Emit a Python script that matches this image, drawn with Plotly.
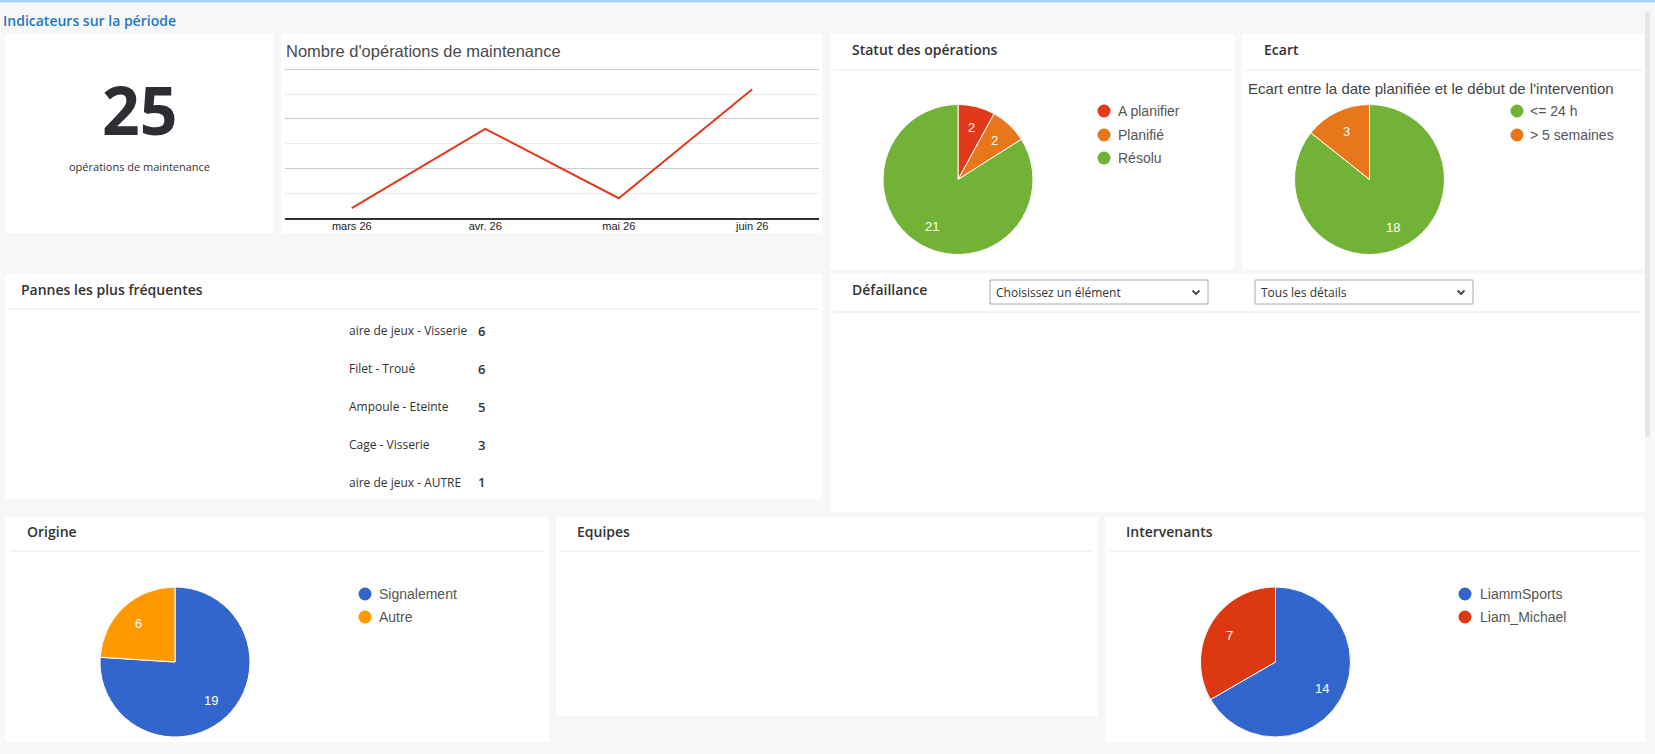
import numpy as np
import plotly.graph_objects as go

W, H = 1655, 754

# ---------------- data ----------------
months = ["mars 26", "avr. 26", "mai 26", "juin 26"]
ops_per_month = [1, 9, 2, 13]
total_ops = 25
y_axis_max = 15

statut_labels = ["A planifier", "Planifié", "Résolu"]
statut_values = [2, 2, 21]
statut_colors = ["#e3391b", "#e8761a", "#72b236"]

ecart_labels = ["<= 24 h", "> 5 semaines"]
ecart_values = [18, 3]
ecart_colors = ["#72b236", "#e8761a"]

pannes_labels = ["aire de jeux - Visserie", "Filet - Troué", "Ampoule - Eteinte",
                 "Cage - Visserie", "aire de jeux - AUTRE"]
pannes_values = [6, 6, 5, 3, 1]

origine_labels = ["Signalement", "Autre"]
origine_values = [19, 6]
origine_colors = ["#3366cc", "#ff9900"]

interv_labels = ["LiammSports", "Liam_Michael"]
interv_values = [14, 7]
interv_colors = ["#3366cc", "#dc3912"]

dropdown_texts = ["Choisissez un élément", "Tous les détails"]


def px(x):
    return x / W


def py(y):
    return 1 - y / H


fig = go.Figure()
shapes = []
ann = []

# ---------------- background / panels ----------------
shapes.append(dict(type="rect", xref="paper", yref="paper", x0=0, x1=1, y0=py(2.5), y1=1,
                   fillcolor="#a9d3f5", line_width=0, layer="below"))
panels = [
    (5, 34, 274, 233), (281, 34, 822, 233), (830, 34, 1235, 269), (1242, 34, 1645, 269),
    (5, 274, 822, 499), (830, 274, 1645, 512),
    (5, 517, 549, 742), (556, 517, 1098, 716), (1105, 517, 1645, 742),
]
for (x0, y0, x1, y1) in panels:
    shapes.append(dict(type="rect", xref="paper", yref="paper", x0=px(x0), x1=px(x1),
                       y0=py(y1), y1=py(y0), fillcolor="white", line_width=0, layer="below"))

# scrollbar
shapes.append(dict(type="rect", xref="paper", yref="paper", x0=px(1645), x1=px(1650),
                   y0=py(437), y1=py(12), fillcolor="#e6e6e6", line_width=0, layer="below"))

# header separators
for (x0, x1, y) in [(833, 1232, 70), (1245, 1642, 70), (8, 819, 309), (833, 1642, 312),
                    (10, 544, 551), (561, 1093, 551), (1110, 1640, 551)]:
    shapes.append(dict(type="line", xref="paper", yref="paper", x0=px(x0), x1=px(x1),
                       y0=py(y), y1=py(y), line=dict(color="#efefef", width=1.5), layer="below"))

HEAD = dict(family="Open Sans", size=14, color="#333333", weight=600)


def text(x, y, s, font, xanchor="left"):
    ann.append(dict(x=px(x), y=py(y), xref="paper", yref="paper", text=s, showarrow=False,
                    xanchor=xanchor, yanchor="middle", font=font))


text(1, 20, "Indicateurs sur la période", dict(family="Open Sans", size=14, color="#1f78c1", weight=600))

# headers
for (x, y, s) in [(850, 49, "Statut des opérations"), (1262, 49, "Ecart"),
                  (19, 289, "Pannes les plus fréquentes"), (850, 289, "Défaillance"),
                  (25, 531, "Origine"), (575, 531, "Equipes"), (1124, 531, "Intervenants")]:
    text(x, y, s, HEAD)

# ---------------- KPI card ----------------
text(139, 109, str(total_ops), dict(family="Open Sans", size=66, color="#2d2d33", weight=700), "center")
text(139, 166, "opérations de maintenance", dict(family="Open Sans", size=11, color="#333333"), "center")

# ---------------- line chart ----------------
text(284, 51, "Nombre d'opérations de maintenance", dict(family="Arial", size=16.5, color="#4a4a4a"))
fig.add_trace(go.Scatter(x=months, y=ops_per_month, mode="lines",
                         line=dict(color="#e3391b", width=2), hoverinfo="x+y",
                         showlegend=False, xaxis="x", yaxis="y"))
fig.update_layout(
    xaxis=dict(domain=[px(285), px(819)], anchor="y", type="category", showgrid=False,
               range=[-0.5, len(months) - 0.5], automargin=False,
               showline=True, linecolor="#333333", linewidth=1.5, ticks="",
               ticklabelstandoff=-3,
               tickfont=dict(family="Arial", size=11, color="#222222"), fixedrange=True),
    yaxis=dict(domain=[py(218), py(68.5)], anchor="x", range=[0, 15.1], dtick=5,
               automargin=False, showline=False,
               showticklabels=False, gridcolor="#cccccc", gridwidth=1, zeroline=False,
               minor=dict(dtick=2.5, showgrid=True, gridcolor="#ebebeb", gridwidth=1),
               fixedrange=True),
)
# top major gridline (at the axis maximum)
shapes.append(dict(type="line", xref="x domain", yref="y", x0=0, x1=1,
                   y0=y_axis_max, y1=y_axis_max, line=dict(color="#cccccc", width=1),
                   layer="below"))

# ---------------- pies ----------------
LABEL_R = 0.71


def add_pie(labels, values, colors, cx, cy, r):
    fig.add_trace(go.Pie(labels=labels, values=values, sort=False, direction="clockwise",
                         rotation=0, marker=dict(colors=colors, line=dict(color="white", width=1)),
                         textinfo="none",
                         domain=dict(x=[px(cx - r), px(cx + r)], y=[py(cy + r), py(cy - r)]),
                         showlegend=False, hoverinfo="label+value+percent"))
    vals = np.array(values, dtype=float)
    cum = np.cumsum(vals) - vals / 2
    ang = 2 * np.pi * cum / vals.sum()
    for v, a in zip(values, ang):
        lx = cx + LABEL_R * r * np.sin(a)
        ly = cy - LABEL_R * r * np.cos(a)
        text(lx, ly, str(v), dict(family="Arial", size=13, color="white"), "center")


def add_legend(labels, colors, mx, tx, ys):
    for lab, col, y in zip(labels, colors, ys):
        shapes.append(dict(type="circle", xref="paper", yref="paper",
                           x0=px(mx - 6.5), x1=px(mx + 6.5), y0=py(y + 6.5), y1=py(y - 6.5),
                           fillcolor=col, line_width=0))
        text(tx, y, lab, dict(family="Arial", size=14, color="#555555"))


add_pie(statut_labels, statut_values, statut_colors, 958, 179.5, 75)
add_legend(statut_labels, statut_colors, 1104, 1116, [111, 135, 158])

text(1246, 88, "Ecart entre la date planifiée et le début de l'intervention",
     dict(family="Arial", size=15, color="#444444"))
add_pie(ecart_labels, ecart_values, ecart_colors, 1369.5, 179.5, 75)
add_legend(ecart_labels, ecart_colors, 1517, 1528, [111, 135])

add_pie(origine_labels, origine_values, origine_colors, 175, 662, 75)
add_legend(origine_labels, origine_colors, 365, 377, [594, 617])

add_pie(interv_labels, interv_values, interv_colors, 1275.5, 662, 75)
add_legend(interv_labels, interv_colors, 1465, 1478, [594, 617])

# ---------------- pannes list ----------------
row_y = [330.5, 368.5, 406.5, 444.5, 482.5]
for lab, val, y in zip(pannes_labels, pannes_values, row_y):
    text(347, y, lab, dict(family="Open Sans", size=12, color="#333333"))
    text(476, y, str(val), dict(family="Open Sans", size=13, color="#333333", weight=600))

# ---------------- dropdowns ----------------
for (x0, x1), s in zip([(990, 1208), (1255, 1473)], dropdown_texts):
    shapes.append(dict(type="rect", xref="paper", yref="paper", x0=px(x0), x1=px(x1),
                       y0=py(304), y1=py(280), fillcolor="white",
                       line=dict(color="#aaaaaa", width=1)))
    text(x0 + 4, 292.5, s, dict(family="Open Sans", size=12, color="#333333"))
    cxv = x1 - 12
    shapes.append(dict(type="path", xref="paper", yref="paper",
                       path=f"M {px(cxv-3.5)} {py(290.5)} L {px(cxv)} {py(294)} L {px(cxv+3.5)} {py(290.5)}",
                       line=dict(color="#444444", width=1.8)))

fig.update_layout(
    template="none",
    width=W, height=H, margin=dict(l=0, r=0, t=0, b=0, pad=0, autoexpand=False),
    paper_bgcolor="#f7f7f7", plot_bgcolor="white",
    shapes=shapes, annotations=ann, showlegend=False,
)

fig.write_html("out.html", config={"displayModeBar": False})
